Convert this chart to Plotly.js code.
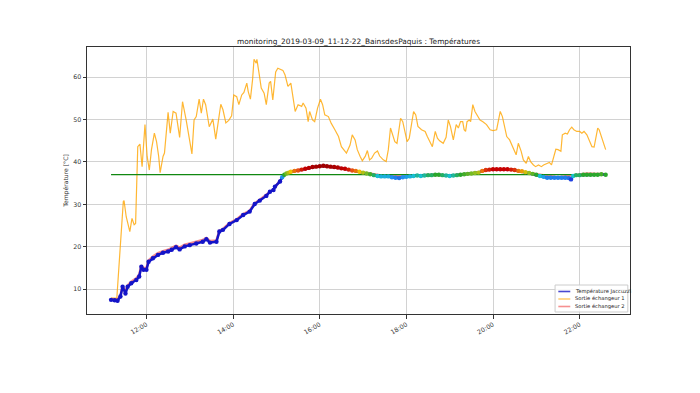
<!DOCTYPE html>
<html>
<head>
<meta charset="utf-8">
<script src="https://cdn.plot.ly/plotly-3.0.1.min.js"></script>
<style>html,body{margin:0;padding:0;background:#fff;}#chart{width:700px;height:393px;}</style>
</head>
<body>
<div id="chart"></div>
<script>
const DAY = '2019-03-09 ';

// Sortie échangeur 1 (orange)
const ech1Times = ['11:11','11:19','11:28','11:29','11:32','11:37','11:40','11:43','11:45','11:48','11:51','11:54','11:58','12:01','12:04','12:07','12:11','12:14','12:17','12:19','12:23','12:25','12:30','12:33','12:37','12:41','12:46','12:50','12:55','12:59','13:03','13:06','13:09','13:13','13:16','13:19','13:22','13:27','13:32','13:36','13:40','13:43','13:46','13:50','13:54','13:58','14:01','14:05','14:08','14:12','14:15','14:19','14:21','14:24','14:27','14:29','14:32','14:33','14:36','14:39','14:43','14:46','14:50','14:52','14:55','14:59','15:02','15:06','15:09','15:12','15:16','15:20','15:22','15:26','15:30','15:35','15:37','15:41','15:44','15:46','15:50','15:53','15:57','16:01','16:04','16:07','16:12','16:16','16:21','16:26','16:30','16:33','16:37','16:42','16:45','16:49','16:52','16:56','16:59','17:03','17:06','17:09','17:12','17:16','17:20','17:23','17:28','17:32','17:35','17:38','17:41','17:44','17:47','17:50','17:52','17:55','17:58','18:01','18:04','18:07','18:10','18:13','18:16','18:21','18:26','18:29','18:33','18:36','18:40','18:43','18:46','18:51','18:55','18:58','19:01','19:05','19:09','19:12','19:15','19:18','19:20','19:22','19:24','19:27','19:29','19:32','19:35','19:38','19:42','19:46','19:51','19:56','20:00','20:05','20:08','20:10','20:13','20:16','20:19','20:23','20:27','20:32','20:35','20:39','20:42','20:46','20:49','20:52','20:56','20:59','21:03','21:07','21:10','21:14','21:18','21:21','21:24','21:27','21:30','21:34','21:36','21:40','21:43','21:46','21:49','21:52','21:56','22:00','22:03','22:06','22:10','22:13','22:17','22:20','22:23','22:25','22:27','22:30','22:34','22:36'];
const ech1Values = [7.9,7.9,30.7,30.9,27.1,23.6,26.7,25.2,25.5,43.6,44.2,38.9,48.8,41.3,38.1,42.9,46.8,44.8,41.3,37.5,41.3,42.1,51.7,46.8,51.9,51.5,45.8,54.2,49.9,45.6,41.9,49.9,50.7,54.8,51.5,54.8,53.5,48.3,50.1,45.4,49.8,53.6,52.3,49.2,49.8,50.9,55.8,55.4,53.5,55.8,56.4,58.6,56.6,54.8,59.4,64.2,63.3,64.2,60.9,57.4,56.2,53.5,58.6,59.0,54.6,61.2,62.1,61.7,61.6,60.5,57.8,58.6,56.2,51.9,53.5,53.1,53.9,52.7,49.5,51.9,49.9,49.5,52.7,54.8,53.5,51.1,50.7,49.1,47.6,46.0,43.6,42.9,42.1,44.0,46.4,45.2,42.9,41.3,40.3,41.3,42.7,40.5,40.9,42.1,42.6,41.4,40.5,40.1,42.9,48.0,46.4,44.8,44.4,48.4,50.3,49.5,47.2,44.8,45.6,49.1,51.9,51.1,48.4,47.6,47.2,46.0,44.8,43.6,47.2,45.6,45.0,44.4,45.8,49.9,48.4,45.2,48.8,48.0,49.5,49.5,47.6,47.2,49.5,49.9,49.5,53.5,51.9,51.1,49.9,49.5,48.8,47.6,47.4,47.6,49.9,51.9,50.7,48.4,46.0,45.2,43.6,41.7,44.4,42.5,40.5,39.7,41.3,40.1,39.3,38.9,39.3,38.9,39.3,39.7,39.9,39.3,41.3,43.0,42.9,42.5,46.4,46.8,46.6,47.6,48.2,47.6,47.2,47.2,46.8,47.2,46.4,45.2,43.6,43.5,46.0,48.0,47.6,46.0,44.4,42.9];

// Sortie échangeur 2 (red)
const ech2Times = ['11:11','11:20','11:24','11:27','11:31','11:34','11:39','11:46','11:50','11:53','11:56','12:00','12:03','12:09','12:16','12:23','12:30','12:35','12:41','12:46','12:53','13:00','13:09','13:18','13:23','13:28','13:37','13:41','13:46','13:55','14:05','14:14','14:23','14:30','14:37','14:46','14:56','15:05','15:13','15:30','16:00','16:30','17:00','17:30','18:00','18:30','19:00','19:30','20:00','20:30','21:00','21:30','22:00','22:10','22:36'];
const ech2Values = [7.7,7.6,8.5,10.8,9.3,10.9,11.8,12.6,13.4,15.6,15.0,15.0,16.8,17.7,18.5,19.0,19.3,19.7,20.3,19.8,20.5,20.8,21.2,21.6,22.1,21.4,21.5,23.8,24.2,25.6,26.5,27.7,28.5,30.3,31.1,32.2,33.6,35.6,37.3,38.1,39.0,38.5,37.5,36.7,36.6,37.0,36.8,37.3,38.3,38.1,37.1,36.4,37.2,37.3,37.1];

// Température Jaccuzzi
const jacTimes = ['11:11','11:16','11:20','11:24','11:27','11:31','11:34','11:39','11:46','11:50','11:53','11:56','12:00','12:03','12:09','12:16','12:23','12:30','12:35','12:41','12:46','12:53','13:00','13:09','13:18','13:23','13:28','13:37','13:41','13:46','13:55','14:05','14:14','14:23','14:30','14:37','14:46','14:51','14:56','14:58','15:05','15:08','15:11','15:14','15:17','15:20','15:25','15:30','15:35','15:40','15:45','15:50','15:55','16:00','16:05','16:10','16:15','16:20','16:25','16:30','16:35','16:40','16:45','16:50','16:55','17:00','17:05','17:10','17:15','17:20','17:25','17:30','17:35','17:40','17:45','17:50','17:55','18:00','18:05','18:10','18:15','18:20','18:25','18:30','18:35','18:40','18:45','18:50','18:55','19:00','19:05','19:10','19:15','19:20','19:25','19:30','19:35','19:40','19:45','19:50','19:55','20:00','20:05','20:10','20:15','20:20','20:25','20:30','20:35','20:40','20:45','20:50','20:55','21:00','21:05','21:10','21:15','21:20','21:25','21:30','21:35','21:40','21:45','21:48','21:51','21:55','22:00','22:05','22:10','22:15','22:20','22:25','22:30','22:36'];
const jacValues = [7.5,7.4,7.3,8.3,10.6,9.0,10.6,11.4,12.2,13.0,15.3,14.6,14.6,16.5,17.3,18.1,18.6,18.9,19.3,19.9,19.4,20.1,20.4,20.8,21.2,21.8,21.0,21.2,23.6,24.0,25.4,26.3,27.5,28.3,30.1,30.9,32.0,33.0,33.4,34.2,35.4,36.4,37.0,37.3,37.5,37.7,37.9,38.0,38.2,38.4,38.6,38.8,38.9,39.0,39.1,39.0,38.9,38.8,38.7,38.5,38.4,38.2,38.0,37.9,37.7,37.5,37.3,37.1,36.9,36.7,36.6,36.6,36.6,36.4,36.3,36.2,36.4,36.5,36.6,36.7,36.8,36.7,36.8,36.9,36.9,37.0,37.0,36.9,36.8,36.7,36.8,36.9,37.0,37.1,37.2,37.3,37.4,37.5,37.9,38.1,38.2,38.3,38.3,38.3,38.3,38.3,38.2,38.1,37.9,37.8,37.6,37.4,37.2,37.0,36.7,36.5,36.3,36.3,36.3,36.3,36.3,36.3,36.2,35.9,36.7,36.9,36.9,37.0,37.0,37.0,37.0,37.0,37.1,37.0];

// Consigne (green)
const setTimes = ['11:11','22:36'];
const setValues = [37, 37];

const tickVals = ['12:00','14:00','16:00','18:00','20:00','22:00'];
const yTicks = [10, 20, 30, 40, 50, 60];

// Legend entries
const legendNames = ['Température Jaccuzzi', 'Sortie échangeur 1', 'Sortie échangeur 2'];
const legendColors = ['rgba(40,40,200,0.85)', 'rgba(255,165,0,0.55)', 'rgba(240,70,70,0.6)'];

const toDate = a => a.map(t => DAY + t);

const tempScale = [
  [0.000, '#1414c8'],
  [0.114, '#1f3fe0'],
  [0.257, '#1e90f0'],
  [0.343, '#18c0d0'],
  [0.429, '#2aa82a'],
  [0.543, '#90c020'],
  [0.629, '#f0c000'],
  [0.714, '#e85010'],
  [0.800, '#c80000'],
  [1.000, '#a00000']
];

const FONT = 'DejaVu Sans, Arial, sans-serif';

const traces = [
  {x: toDate(ech1Times), y: ech1Values, type: 'scatter', mode: 'lines', name: legendNames[1],
   line: {color: 'rgba(255,165,0,0.8)', width: 1.2}},
  {x: toDate(ech2Times), y: ech2Values, type: 'scatter', mode: 'lines', name: legendNames[2],
   line: {color: 'rgba(240,60,60,0.6)', width: 2.5}},
  {x: toDate(setTimes), y: setValues, type: 'scatter', mode: 'lines', name: 'Consigne',
   line: {color: '#118811', width: 1.2}},
  {x: toDate(jacTimes), y: jacValues, type: 'scatter', mode: 'lines', name: legendNames[0],
   line: {color: '#1414c8', width: 2.5}},
  {x: toDate(jacTimes), y: jacValues, type: 'scatter', mode: 'markers', name: legendNames[0],
   marker: {size: 4.4, color: jacValues, colorscale: tempScale, cmin: 35.5, cmax: 39, showscale: false, line: {width: 0}}}
];

// Custom compact legend (box, swatches, labels) in paper coordinates
const legX0 = 0.862, legX1 = 0.996, legY0 = 0.0075, legY1 = 0.1086;
const rowY = [0.0843, 0.0562, 0.0281];
const shapes = [{type: 'rect', xref: 'paper', yref: 'paper', x0: legX0, x1: legX1, y0: legY0, y1: legY1,
                 line: {color: '#cccccc', width: 1}, fillcolor: 'rgba(255,255,255,0.85)', layer: 'above'}];
const annotations = [];
legendNames.forEach((n, i) => {
  shapes.push({type: 'line', xref: 'paper', yref: 'paper', x0: 0.868, x1: 0.890, y0: rowY[i], y1: rowY[i],
               line: {color: legendColors[i], width: 1.6}, layer: 'above'});
  annotations.push({xref: 'paper', yref: 'paper', x: 0.895, y: rowY[i], xanchor: 'left', yanchor: 'middle',
                    text: n, showarrow: false, font: {family: FONT, size: 5.2, color: '#222222'}});
});

const layout = {
  width: 700, height: 393,
  margin: {l: 87, r: 70, t: 47, b: 79, pad: 0},
  paper_bgcolor: '#ffffff', plot_bgcolor: '#ffffff',
  font: {family: FONT, size: 6.5, color: '#333333'},
  title: {text: 'monitoring_2019-03-09_11-12-22_BainsdesPaquis : Températures',
          font: {family: FONT, size: 7.4, color: '#222222'},
          x: 0.5, xref: 'paper', xanchor: 'center', y: 1 - 41/393, yanchor: 'middle'},
  showlegend: false,
  shapes: shapes,
  annotations: annotations,
  xaxis: {type: 'date', range: [DAY + '10:37:42', DAY + '23:09:42'],
          tickvals: toDate(tickVals), ticktext: tickVals, tickangle: -30,
          showgrid: true, gridcolor: '#d2d2d2', gridwidth: 1,
          showline: true, linecolor: '#333333', linewidth: 1, mirror: true,
          ticks: 'outside', ticklen: 3.5, tickcolor: '#333333', zeroline: false,
          tickfont: {family: FONT, size: 6.3, color: '#333333'}},
  yaxis: {range: [4.17, 67.1], tickvals: yTicks,
          showgrid: true, gridcolor: '#d2d2d2', gridwidth: 1,
          showline: true, linecolor: '#333333', linewidth: 1, mirror: true,
          ticks: 'outside', ticklen: 3.5, tickcolor: '#333333', zeroline: false,
          tickfont: {family: FONT, size: 6.3, color: '#333333'},
          title: {text: 'Température [°C]', font: {family: FONT, size: 6.1, color: '#333333'}, standoff: 4}}
};

Plotly.newPlot('chart', traces, layout, {displayModeBar: false, staticPlot: true});
</script>
</body>
</html>
